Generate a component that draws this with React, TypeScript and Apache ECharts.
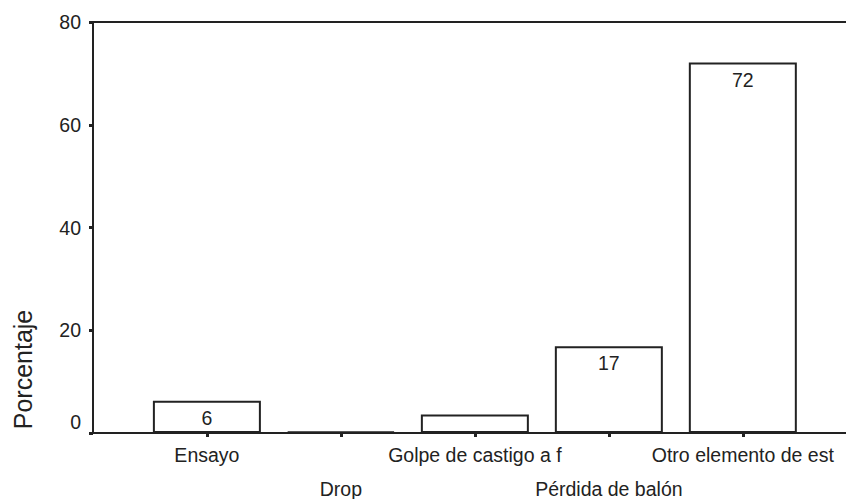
import React, { useEffect, useRef } from "react";
import * as echarts from "echarts";

const categories = ["Ensayo", "Drop", "Golpe de castigo a f", "Pérdida de balón", "Otro elemento de est"];
const values = [6.3, 0.3, 3.6, 16.9, 72.1];
const showValueLabel = [true, false, false, true, true];
const yTicks = [0, 20, 40, 60, 80];

const FONT = "'Liberation Sans', Arial, sans-serif";
const INK = "#222";

export default function App() {
  const ref = useRef<HTMLDivElement>(null);
  useEffect(() => {
    if (!ref.current) return;
    const chart = echarts.init(ref.current, null, { renderer: "svg" });
    const idx = categories.map((_, i) => i);
    chart.setOption({
      animation: false,
      backgroundColor: "#fff",
      grid: { left: 93, right: 0, top: 22, bottom: 66, containLabel: false },
      xAxis: [
        {
          type: "value",
          min: -0.85,
          max: 4.77,
          axisLine: { show: true, onZero: false, lineStyle: { color: INK, width: 2 } },
          splitLine: { show: false },
          axisTick: {
            show: true,
            customValues: idx,
            length: 4,
            lineStyle: { color: INK, width: 3 },
          },
          axisLabel: {
            show: true,
            customValues: idx,
            margin: 12,
            color: INK,
            fontFamily: FONT,
            fontSize: 19.5,
            formatter: (v: number) => {
              const i = Math.round(v);
              const name = categories[i] ?? "";
              return i % 2 === 1 ? `{lo|${name}}` : `{hi|${name}}`;
            },
            rich: {
              hi: { fontFamily: FONT, fontSize: 19.5, color: INK },
              lo: { fontFamily: FONT, fontSize: 19.5, color: INK, padding: [34, 0, 0, 0] },
            },
          },
        },
        {
          type: "value",
          position: "top",
          min: -0.85,
          max: 4.77,
          axisLine: { show: true, onZero: false, lineStyle: { color: INK, width: 2 } },
          axisTick: { show: false },
          axisLabel: { show: false },
          splitLine: { show: false },
        },
      ],
      yAxis: {
        type: "value",
        min: 0,
        max: 80,
        interval: 20,
        name: "Porcentaje",
        nameLocation: "middle",
        nameGap: 58,
        nameRotate: 90,
        nameTextStyle: {
          fontFamily: FONT,
          fontSize: 25,
          color: INK,
          padding: [0, 284, 0, 0],
        },
        axisLine: { show: true, onZero: false, lineStyle: { color: INK, width: 2 } },
        axisTick: { show: true, length: 4, lineStyle: { color: INK, width: 3 } },
        splitLine: { show: false },
        axisLabel: {
          margin: 12,
          color: INK,
          fontFamily: FONT,
          fontSize: 19.5,
          formatter: (v: number) => (v === 0 ? `{z|0}` : `${v}`),
          rich: {
            z: { fontFamily: FONT, fontSize: 19.5, color: INK, padding: [0, 0, 22, 0] },
          },
        },
        data: yTicks,
      },
      series: [
        {
          type: "bar",
          barWidth: 108,
          z: 1,
          data: values.map((v, i) => ({
            value: [i, v],
            label: { show: showValueLabel[i] },
          })),
          itemStyle: { color: "#fff", borderColor: INK, borderWidth: 2 },
          label: {
            show: true,
            position: "insideTop",
            distance: 7,
            color: INK,
            fontFamily: FONT,
            fontSize: 19.5,
            formatter: (p: any) => `${Math.round(p.value[1])}`,
          },
        },
      ],
    });
    return () => chart.dispose();
  }, []);
  return (
    <div
      ref={ref}
      style={{ position: "absolute", left: 0, top: 0, width: 846, height: 499, background: "#fff" }}
    />
  );
}
